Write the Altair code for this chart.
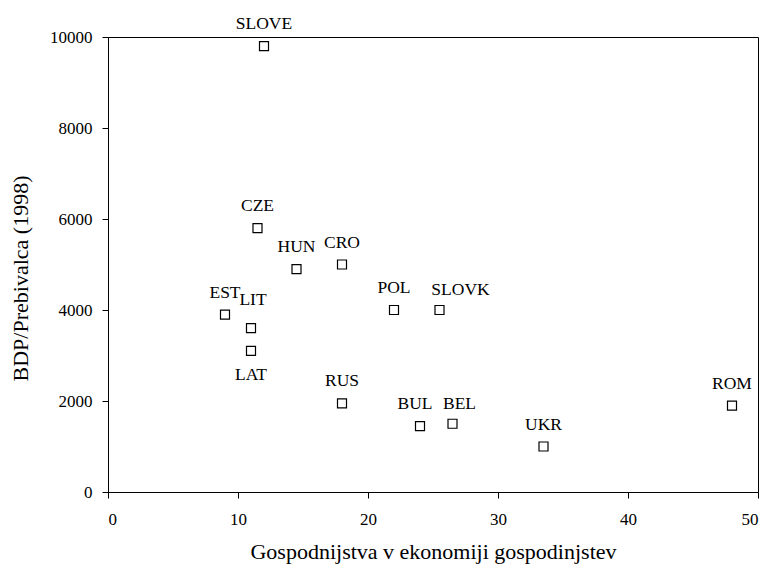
import altair as alt
import pandas as pd

countries = ["SLOVE", "CZE", "HUN", "CRO", "EST", "LIT", "LAT", "POL", "SLOVK",
             "RUS", "BUL", "BEL", "UKR", "ROM"]
households = [12.0, 11.5, 14.5, 18.0, 9.0, 11.0, 11.0, 22.0, 25.5,
              18.0, 24.0, 26.5, 33.5, 48.0]
gdp = [9800, 5800, 4900, 5000, 3900, 3600, 3100, 4000, 4000,
       1950, 1450, 1500, 1000, 1900]

df = pd.DataFrame({"country": countries, "x": households, "y": gdp})

FONT = "Liberation Serif, Times New Roman, serif"
xs = alt.Scale(domain=[0, 50], nice=False)
ys = alt.Scale(domain=[0, 10000], nice=False)

base = alt.Chart(df).encode(
    x=alt.X("x:Q", scale=xs,
            axis=alt.Axis(title="Gospodnijstva v ekonomiji gospodinjstev",
                          values=[0, 10, 20, 30, 40, 50], grid=False,
                          labelPadding=13, titlePadding=14)),
    y=alt.Y("y:Q", scale=ys,
            axis=alt.Axis(title="BDP/Prebivalca (1998)",
                          values=[0, 2000, 4000, 6000, 8000, 10000], grid=False,
                          labelPadding=10, titlePadding=17, format="d",
                          titleY=241)),
)

points = base.mark_point(shape="square", size=81, filled=False,
                         color="black", strokeWidth=1.2, opacity=1)

def labels(names, dx, dy):
    return base.transform_filter(
        alt.FieldOneOfPredicate(field="country", oneOf=names)
    ).mark_text(font=FONT, fontSize=17.5, color="black", dx=dx, dy=dy,
                baseline="middle", align="center").encode(text="country:N")

above = [c for c in countries if c not in ("LAT", "LIT", "SLOVK", "BUL", "BEL")]
chart = alt.layer(
    points,
    labels(above, 0, -22),
    labels(["LAT"], 0, 24),
    labels(["LIT"], 2, -28),
    labels(["SLOVK"], 21, -20),
    labels(["BUL"], -5, -22),
    labels(["BEL"], 7, -20),
).properties(
    width=650, height=455,
    autosize=alt.AutoSizeParams(type="none"),
    padding={"left": 100, "top": 29, "right": 2, "bottom": 74},
).configure_view(
    stroke="black", strokeWidth=1
).configure_axis(
    labelFont=FONT, titleFont=FONT, labelFontSize=17, titleFontSize=22,
    labelColor="black", titleColor="black", titleFontWeight="normal",
    domainColor="black", tickColor="black", tickSize=6,
    domainWidth=1, tickWidth=1
)

chart.save("out.html", embed_options={"renderer": "svg", "actions": False})
